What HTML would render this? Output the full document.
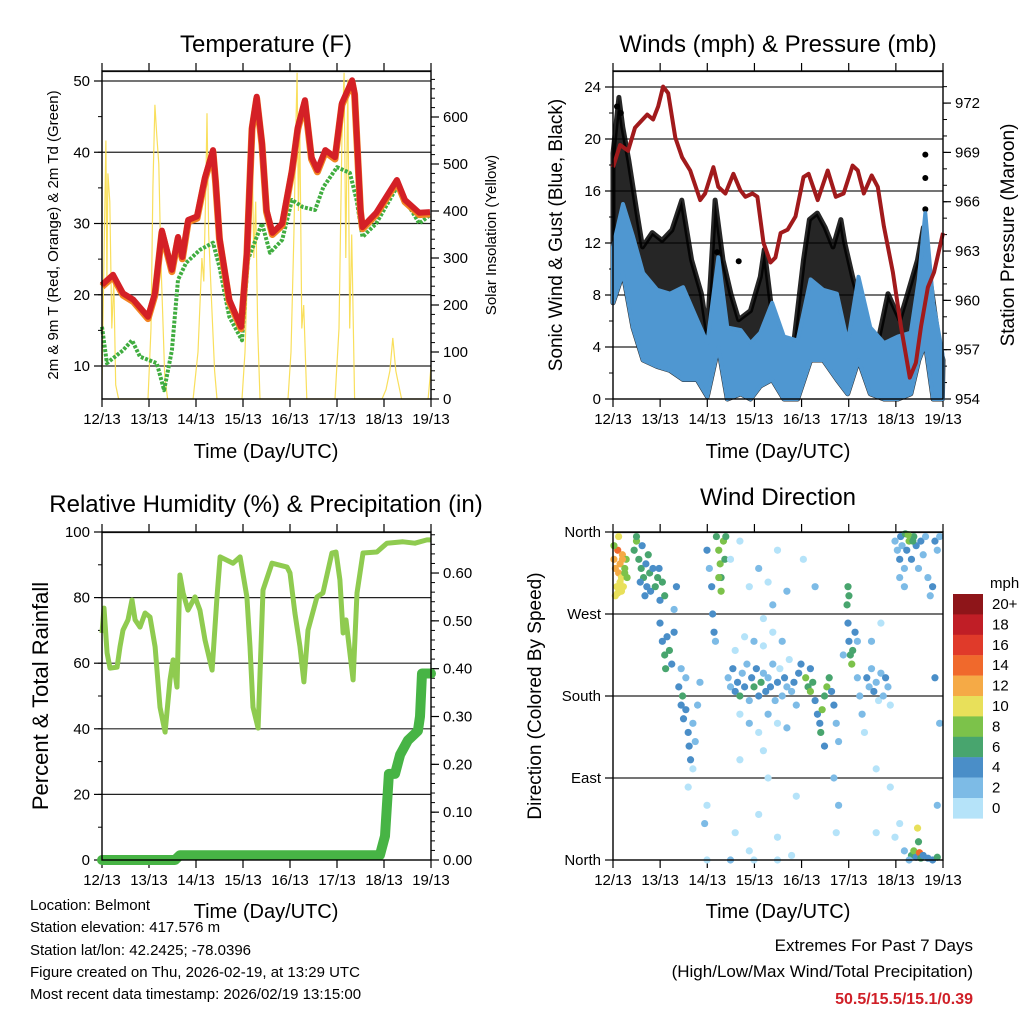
<!DOCTYPE html>
<html><head><meta charset="utf-8"><style>
html,body{margin:0;padding:0;background:#fff;}
svg{display:block;font-family:"Liberation Sans",sans-serif;}
</style></head><body>
<svg id="c" width="1024" height="1024" viewBox="0 0 1024 1024">
<rect width="1024" height="1024" fill="#fff"/>
<g id="g"></g>
<text x="266" y="52" font-size="24" text-anchor="middle">Temperature (F)</text>
<text x="778" y="52" font-size="24" text-anchor="middle">Winds (mph) &amp; Pressure (mb)</text>
<text x="266" y="512" font-size="24" text-anchor="middle">Relative Humidity (%) &amp; Precipitation (in)</text>
<text x="778" y="505" font-size="24" text-anchor="middle">Wind Direction</text>
<text x="266" y="458" font-size="20" text-anchor="middle">Time (Day/UTC)</text>
<text x="778" y="458" font-size="20" text-anchor="middle">Time (Day/UTC)</text>
<text x="266" y="918" font-size="20" text-anchor="middle">Time (Day/UTC)</text>
<text x="778" y="918" font-size="20" text-anchor="middle">Time (Day/UTC)</text>
<text transform="translate(58,235) rotate(-90)" font-size="15" text-anchor="middle">2m &amp; 9m T (Red, Orange) &amp; 2m Td (Green)</text>
<text transform="translate(496,235) rotate(-90)" font-size="15" text-anchor="middle">Solar Insolation (Yellow)</text>
<text transform="translate(562,235) rotate(-90)" font-size="19" text-anchor="middle">Sonic Wind &amp; Gust (Blue, Black)</text>
<text transform="translate(1014,235) rotate(-90)" font-size="19" text-anchor="middle">Station Pressure (Maroon)</text>
<text transform="translate(48,696) rotate(-90)" font-size="22" text-anchor="middle">Percent &amp; Total Rainfall</text>
<text transform="translate(541,696) rotate(-90)" font-size="19" text-anchor="middle">Direction (Colored By Speed)</text>
<g font-size="15">
<text x="30" y="910">Location: Belmont</text>
<text x="30" y="932">Station elevation: 417.576 m</text>
<text x="30" y="955">Station lat/lon: 42.2425; -78.0396</text>
<text x="30" y="977">Figure created on Thu, 2026-02-19, at 13:29 UTC</text>
<text x="30" y="999">Most recent data timestamp: 2026/02/19 13:15:00</text>
</g>
<g font-size="17" text-anchor="end">
<text x="973" y="951">Extremes For Past 7 Days</text>
<text x="973" y="977">(High/Low/Max Wind/Total Precipitation)</text>
<text x="973" y="1004" fill="#d02028" font-weight="bold" font-size="16">50.5/15.5/15.1/0.39</text>
</g>
</svg>
<script>
const dayLabels=["12/13","13/13","14/13","15/13","16/13","17/13","18/13","19/13"];
const tempT=[0,5.6,10.7,16,23.5,27,30.6,35.7,38.8,41,44,48.5,52.6,56.7,58,60,65,71,74,76.6,79,81.7,84,87,92,97,100,103.6,107,110,114,119,122.5,127.7,129,132,133,140,150.6,154.7,162,167.5];
const tempV=[21.4,22.8,20.2,19.3,16.9,20.2,29,23.5,28.1,25.3,30.5,31,36.5,40.3,36,28,19.3,15.5,25.9,43.5,47.8,41.3,31.9,28.7,30,37.5,43.5,47.3,39.3,37.5,40.3,39.3,46.9,50.1,48.3,31.9,29.5,31.5,36.1,33.3,31.5,31.6];
const dewT=[0,2.5,10.7,15.3,19.4,28,31.7,35.7,38.8,43,50,56.7,60,65,71.5,74.5,77,81.7,85.8,92,97,102.6,108.8,113,120,126.6,130,133,140,150.6,155.7,162,167.5];
const dewV=[15.5,10.4,12.2,13.6,11.3,10.4,6.6,12.2,22.1,24.5,26.3,27.3,23.9,16.9,13.6,24.9,26.7,30,25.9,27.7,33.3,32.3,31.9,35.1,37.9,37.1,33.3,28.1,30,35.1,32.9,30,31.2];
const solarT=[0,1,2,2.5,3,4,5,6,7,8.5,23.5,25,26,27,28,29,30,31,32,33.5,46.5,49,51,52,53,53.6,54.5,56,57.5,58.7,71.5,73,74.5,76,76.6,77.5,78.5,79.5,80.7,95,96.5,98,99,99.6,100.3,101,102,103,104.6,119,121,122.5,123.6,124.5,125.5,126.5,127.5,129,143,145,147,148.5,150,151,153,166.5,168];
const solarV=[40,300,550,250,480,420,150,250,30,0,0,150,450,626,560,500,300,180,50,0,0,100,300,250,450,608,350,200,60,0,0,100,300,400,545,300,420,150,0,0,100,350,580,694,400,580,150,200,0,0,150,550,694,300,680,150,350,0,0,20,60,130,60,40,0,0,68];
const windT=[0,5.1,10.2,15.3,22.5,29,35.7,42.8,48,53.6,58.2,65,70,75,81,87,94,100.6,107,114,119.5,125,131,138,145,151.6,155.7,159,163,167.7];
const windHi=[11.7,15,12.5,9.7,8.4,8.1,8.6,6.1,4.3,10.9,5.5,5.3,4.3,5.1,7.4,4.8,4.5,9.2,8.4,8.1,4.3,9.4,5.5,4.3,4.8,5.1,9.2,14.3,7.4,3.5];
const windLo=[7.4,9.7,5.5,3,2.5,2.2,1.5,1.5,0.2,4,0,0.4,0,1,1.5,0,0,3,3,1.5,0.4,3,0.4,0,0,0.4,3,4.3,0,0];
const gustT=[0,3,5,8,12,15,20,25,30,35,40,45,48,52,56,60,64,70,75,77,81,86,92,97,100,104,108,112,116,118,122,128,134,140,146,150,155,158,162,166,168];
const gustV=[18.9,23.2,20.9,18.4,14.5,11.7,12.8,12.2,13,15.3,10.7,8.1,5.1,15.3,10.7,8.1,6.1,6.8,9.4,11.5,6.6,4.5,4.3,10.7,13.8,14.3,13.2,11.7,13.8,12,9.4,6.1,3.8,8.1,6.1,8.1,10.7,13.2,8.6,4.3,3];
const gustDotT=[159,159,159,53,64,2,4];
const gustDotV=[18.8,17,14.6,11.3,10.6,22.5,22];
const presT=[0,3.6,7.7,11.2,17.4,20.4,23,25.5,28.1,31.7,35.2,39.3,44.4,46.9,51.1,53.6,57.2,61.3,64.8,67.4,71,73.5,76.6,80.2,82.7,85.3,88.9,92.9,97,99.6,104.2,109.3,113.4,117.4,122,124.6,127.7,131.7,134.8,137.9,142.5,146.6,151.1,154.2,156.8,160.3,163.4,168];
const presV=[968.1,969.45,969.1,970.5,971.3,971.0,971.8,973.0,972.6,969.9,968.7,967.9,966.1,966.5,968.1,966.9,966.5,967.7,966.7,966.3,966.5,966.3,963.5,962.3,962.6,964.1,964.3,965.1,967.5,967.7,966.1,967.9,966.3,966.5,968.2,967.9,966.5,967.6,966.9,964.5,961.7,958.4,955.3,956.2,958.4,960.8,961.7,964.1];
const rhT=[0,1,2.6,4.1,7.7,9.2,10.7,13.3,15.3,16.9,19.4,22,24.5,27.1,29.6,32.2,34.7,36.3,38.3,39.8,41.4,43.9,47.5,50,52.6,56.2,58.7,60.3,66.9,70.5,74,75.6,77.1,79.7,82.2,86.8,94.5,96,98.5,101.1,103.1,105.2,109.8,112.8,117.4,119.5,121.5,123.1,124.6,126.6,128.2,130.2,133.3,140.4,145.5,153.7,159.8,165.9,168];
const rhV=[69.2,76.8,63.1,58.5,58.8,65,70.1,73.2,79.3,73.2,71,75.3,74.1,65,46.6,39,54.9,61,52.7,86.9,81.4,76.2,80.2,76.2,67.1,57.9,80.2,92.4,90.5,92.4,80.2,65,46.6,40.2,82.3,90.5,89.3,87.5,75.3,65,54.3,70.1,80.2,81.4,93.6,93.9,85.4,69.2,73.2,63.1,54.9,81.4,93.6,93.9,96.6,97,96.6,97.6,97.6];
const precT=[0,37.3,39.8,141.9,144.5,146.5,149.6,152.2,156.2,161.3,162.4,163.4,168];
const precV=[0,0,0.01,0.01,0.05,0.18,0.18,0.22,0.25,0.27,0.30,0.39,0.39];
const dirD=[0.02,0.05,0.08,0.1,0.12,0.15,0.18,0.2,0.22,0.25,0.28,0.3,0.05,0.1,0.15,0.2,0.25,0.02,0.12,0.18,
0.45,0.5,0.55,0.6,0.62,0.65,0.7,0.72,0.75,0.78,0.8,0.85,0.5,0.58,0.68,
0.9,0.95,1.0,1.05,1.1,1.0,1.05,1.1,1.12,1.15,1.2,1.25,1.3,1.35,1.3,0.98,
1.4,1.45,1.48,1.5,1.55,1.6,1.62,1.65,1.7,1.75,1.8,1.85,1.55,1.45,1.7,1.6,
2.0,2.05,2.1,2.12,2.15,2.18,2.2,2.25,2.28,2.3,2.3,2.35,2.38,2.25,2.4,2.0,1.95,2.0,
2.45,2.5,2.55,2.6,2.65,2.7,2.75,2.8,2.85,2.9,2.95,3.0,3.05,3.1,3.15,3.2,3.25,3.3,3.35,3.4,3.45,3.5,3.55,3.6,3.65,3.7,3.75,3.8,3.85,3.9,3.95,2.6,2.8,3.0,3.2,3.4,3.6,2.7,2.9,3.1,3.3,3.5,3.7,2.5,2.7,2.9,3.1,3.3,3.5,3.7,3.4,3.2,2.6,2.9,3.1,3.3,3.5,3.8,2.5,3.0,3.5,3.9,2.7,3.2,
4.1,4.15,4.2,4.25,4.3,4.35,4.4,4.42,4.45,4.5,4.55,4.6,4.65,4.7,4.75,4.8,4.2,4.0,4.5,4.7,4.8,4.75,4.9,4.05,4.3,
4.98,5.0,5.02,5.05,5.08,5.1,5.15,5.2,5.25,5.3,5.35,5.0,5.02,5.2,
5.4,5.45,5.5,5.55,5.6,5.65,5.7,5.75,5.8,5.85,5.9,5.5,5.7,5.6,5.9,5.6,
6.0,6.05,6.1,6.12,6.15,6.2,6.22,6.25,6.3,6.35,6.4,6.45,6.5,6.55,6.6,6.65,6.7,6.75,6.8,6.85,6.9,6.95,6.28,6.38,6.1,6.2,
6.35,6.4,6.45,6.5,6.52,6.48,6.55,6.6,6.7,6.8,6.9,6.3,6.2,6.1,6.0,6.9,6.95,6.85];
const dirDeg=[330,320,300,340,315,325,310,335,300,320,330,310,290,293,305,330,315,345,355,295,
340,350,330,320,345,310,325,300,335,315,295,320,355,305,290,
300,310,285,305,290,260,240,225,210,245,230,215,250,300,275,320,
190,170,180,155,165,140,125,110,150,130,170,195,200,210,100,80,
340,320,300,270,250,240,355,340,325,310,295,350,330,310,355,0,40,60,
200,190,210,185,195,180,205,190,215,175,200,190,210,180,195,205,185,200,190,215,175,195,210,180,200,190,220,185,195,170,205,230,245,240,235,250,240,160,150,140,160,150,145,330,350,300,320,305,340,295,280,265,30,10,50,90,25,5,0,0,0,70,110,120,
200,190,185,195,175,160,150,140,165,180,190,200,185,170,150,130,210,215,125,90,60,30,225,330,300,
280,260,240,225,215,230,250,200,180,160,140,300,290,240,
200,190,210,185,195,175,205,180,200,190,170,240,260,100,80,30,
350,340,330,355,345,320,358,340,350,330,355,345,320,350,335,355,310,290,300,350,340,355,357,350,310,300,
5,10,3,20,8,35,2,5,2,0,3,0,10,40,25,60,150,200];
const dirSpd=[12,13,10,14,12,12,11,12,10,9,8,8,10,10,11,13,9,8,11,10,
6,8,7,6,4,6,5,4,7,6,4,5,7,5,4,
6,7,5,7,6,4,5,7,6,4,7,5,4,4,3,4,
4,4,6,4,4,4,4,4,3,3,2,2,3,2,1,1,
4,3,4,4,4,3,7,9,8,7,8,8,7,9,7,1,2,1,
2,3,4,5,4,6,3,4,2,3,4,6,5,4,7,3,4,2,4,3,2,4,1,3,4,2,1,3,4,2,4,1,1,2,1,1,2,1,2,1,2,1,2,1,1,1,2,1,1,2,2,1,1,1,1,1,1,1,2,1,1,1,1,1,
8,7,8,6,4,4,4,6,8,6,8,7,4,4,2,2,5,4,4,2,2,1,2,1,2,
6,4,5,7,8,6,4,3,2,2,1,6,7,3,
4,3,2,4,2,1,3,2,4,2,1,2,1,1,1,1,
3,2,4,4,2,3,6,4,8,4,6,4,2,4,2,3,3,2,4,4,2,3,8,7,2,2,
6,8,5,6,14,10,7,4,5,4,6,2,2,1,1,2,2,4];
const speedLabels=["0","2","4","6","8","10","12","14","16","18","20+"];
const speedColors=["#b5e3f9","#7dbbe6","#4a8ec8","#48a56e","#7cc24a","#e8e05a","#f5aa46","#f0692c","#e03a2a","#c01e26","#8e1519"];

const NS="http://www.w3.org/2000/svg";
const G=document.getElementById('g');
function mk(tag,attrs,parent){const e=document.createElementNS(NS,tag);for(const k in attrs)e.setAttribute(k,attrs[k]);(parent||G).appendChild(e);return e;}
function txt(x,y,s,size,anchor,parent){const e=mk('text',{x:x,y:y,'font-size':size,'text-anchor':anchor||'middle'},parent);e.textContent=s;return e;}
function pathFrom(ts,vs,xf,yf){return ts.map((t,i)=>(i?'L':'M')+xf(t).toFixed(1)+','+yf(vs[i]).toFixed(1)).join('');}

function panel(o){
  const g=mk('g',{});
  
  
  const L=o.x0,R=o.x1,T=o.y0,B=o.y1;
  // grid
  o.grid.forEach(v=>{const y=o.yl(v);const l=mk('line',{x1:L,x2:R,y1:y,y2:y,stroke:'#222','stroke-width':1.2},g);});
  mk('line',{x1:L,x2:R,y1:T+0.5,y2:T+0.5,stroke:'#222','stroke-width':1.2},g);
  // x ticks
  for(let d=0;d<=7;d++){const x=L+d*(R-L)/7;
    mk('line',{x1:x,x2:x,y1:B,y2:B+8,stroke:'#000','stroke-width':1.2},g);
    mk('line',{x1:x,x2:x,y1:T,y2:T-8,stroke:'#000','stroke-width':1.2},g);
    const t=txt(x,B+25,dayLabels[d],15,'middle',g);}
  // left ticks
  o.lmaj.forEach((v,i)=>{const y=o.yl(v);mk('line',{x1:L-8,x2:L,y1:y,y2:y,stroke:'#000','stroke-width':1.2},g);
    const t=txt(L-12,y+5,o.llab[i],15,'end',g);});
  (o.lmin||[]).forEach(v=>{const y=o.yl(v);mk('line',{x1:L-4,x2:L,y1:y,y2:y,stroke:'#000','stroke-width':1},g);});
  if(o.rmaj){o.rmaj.forEach((v,i)=>{const y=o.yr(v);mk('line',{x1:R,x2:R+8,y1:y,y2:y,stroke:'#000','stroke-width':1.2},g);
    const t=txt(R+12,y+5,o.rlab[i],15,'start',g);});
    (o.rmin||[]).forEach(v=>{const y=o.yr(v);mk('line',{x1:R,x2:R+4,y1:y,y2:y,stroke:'#000','stroke-width':1},g);});}
  return g;
}
function frame(o,g){mk('rect',{x:o.x0,y:o.y0,width:o.x1-o.x0,height:o.y1-o.y0,fill:'none',stroke:'#000','stroke-width':1.4},g);}
function rng(a,b,s){const r=[];for(let v=a;v<=b+1e-9;v+=s)r.push(+v.toFixed(4));return r;}

// ---------- Temperature ----------
const tx=t=>102+t*329/168, tyT=v=>81+(50-v)*7.125, tyS=v=>399-v*0.47;
const TP={name:'temperature-panel',x0:102,x1:431,y0:71,y1:399,yl:tyT,yr:tyS,grid:[10,20,30,40,50],
 lmaj:[10,20,30,40,50],llab:["10","20","30","40","50"],lmin:rng(10,50,5),
 rmaj:[0,100,200,300,400,500,600],rlab:["0","100","200","300","400","500","600"],rmin:rng(0,680,20)};
const gT=panel(TP);
let p=mk('path',{d:pathFrom(solarT,solarV,tx,tyS),fill:'none',stroke:'#f8dc4a','stroke-width':1.2,'stroke-opacity':0.9},gT);

p=mk('path',{d:pathFrom(dewT,dewV,tx,tyT),fill:'none',stroke:'#40ad40','stroke-width':4,'stroke-dasharray':'3 1.5','stroke-linejoin':'round'},gT);

p=mk('path',{d:pathFrom(tempT,tempV.map(v=>v-0.25),tx,tyT),fill:'none',stroke:'#f28322','stroke-width':7,'stroke-linejoin':'round'},gT);

p=mk('path',{d:pathFrom(tempT,tempV,tx,tyT),fill:'none',stroke:'#d42026','stroke-width':6,'stroke-linejoin':'round'},gT);

frame(TP,gT);

// ---------- Winds ----------
const wx=t=>613+t*330/168, wy=v=>399-v*13, py=v=>399-(v-954)*16.44;
const WP={name:'winds-panel',x0:613,x1:943,y0:71,y1:399,yl:wy,yr:py,grid:[4,8,12,16,20,24],
 lmaj:[0,4,8,12,16,20,24],llab:["0","4","8","12","16","20","24"],lmin:rng(0,24,2),
 rmaj:[954,957,960,963,966,969,972],rlab:["954","957","960","963","966","969","972"],rmin:rng(954,973,1)};
const gW=panel(WP);
{const top=pathFrom(gustT,gustV,wx,wy);
 const bot=windT.slice().reverse().map((t,i)=>'L'+wx(t).toFixed(1)+','+wy(windLo[windLo.length-1-i]).toFixed(1)).join('');
 p=mk('path',{d:top+bot+'Z',fill:'#000','fill-opacity':0.85,stroke:'#000','stroke-width':5,'stroke-linejoin':'round','stroke-opacity':0.85},gW);
 }
gustDotT.forEach((t,i)=>{const c=mk('circle',{cx:wx(t),cy:wy(gustDotV[i]),r:3,fill:'#000'},gW);
 });
{const top=pathFrom(windT,windHi,wx,wy);
 const bot=windT.slice().reverse().map((t,i)=>'L'+wx(t).toFixed(1)+','+wy(windLo[windLo.length-1-i]).toFixed(1)).join('');
 p=mk('path',{d:top+bot+'Z',fill:'#4f97d1',stroke:'#4f97d1','stroke-width':4,'stroke-linejoin':'round'},gW);
 }
p=mk('path',{d:pathFrom(presT,presV,wx,py),fill:'none',stroke:'#a11a1c','stroke-width':4,'stroke-linejoin':'round'},gW);

frame(WP,gW);

// ---------- RH ----------
const ry=v=>860-v*3.28, pry=v=>860-v*478.3;
const RP={name:'humidity-panel',x0:102,x1:431,y0:532,y1:860,yl:ry,yr:pry,grid:[20,40,60,80],
 lmaj:[0,20,40,60,80,100],llab:["0","20","40","60","80","100"],lmin:rng(0,100,10),
 rmaj:[0,0.1,0.2,0.3,0.4,0.5,0.6],rlab:["0.00","0.10","0.20","0.30","0.40","0.50","0.60"],rmin:rng(0,0.68,0.02)};
const gR=panel(RP);
p=mk('path',{d:pathFrom(rhT,rhV,tx,ry),fill:'none',stroke:'#8fcb50','stroke-width':5,'stroke-linejoin':'round'},gR);

p=mk('path',{d:pathFrom(precT,precV,tx,pry),fill:'none',stroke:'#47b445','stroke-width':10,'stroke-linejoin':'round','stroke-linecap':'round'},gR);

frame(RP,gR);

// ---------- Wind direction ----------
const dx=d=>613+d*47, dy=v=>860-v*328/360;
const DP={name:'direction-panel',x0:613,x1:943,y0:532,y1:860,yl:dy,grid:[90,180,270],
 lmaj:[0,90,180,270,360],llab:["North","East","South","West","North"],lmin:[]};
const gD=panel(DP);
dirD.forEach((d,i)=>{const s=dirSpd[i];const bin=Math.min(10,Math.floor(s/2));
 const c=mk('circle',{cx:dx(d),cy:dy(dirDeg[i]),r:3.6,fill:speedColors[bin]},gD);
 });
frame(DP,gD);
// legend
const lg=mk('g',{});

txt(990,588,'mph',15,'start',lg);
speedLabels.forEach((lab,i)=>{const k=10-i;const y=594+i*20.4;
 const r=mk('rect',{x:953,y:y,width:30,height:20.6,fill:speedColors[k]},lg);
 
 const t=txt(992,y+15,speedLabels[k],15,'start',lg);
 });
</script>
</body></html>
